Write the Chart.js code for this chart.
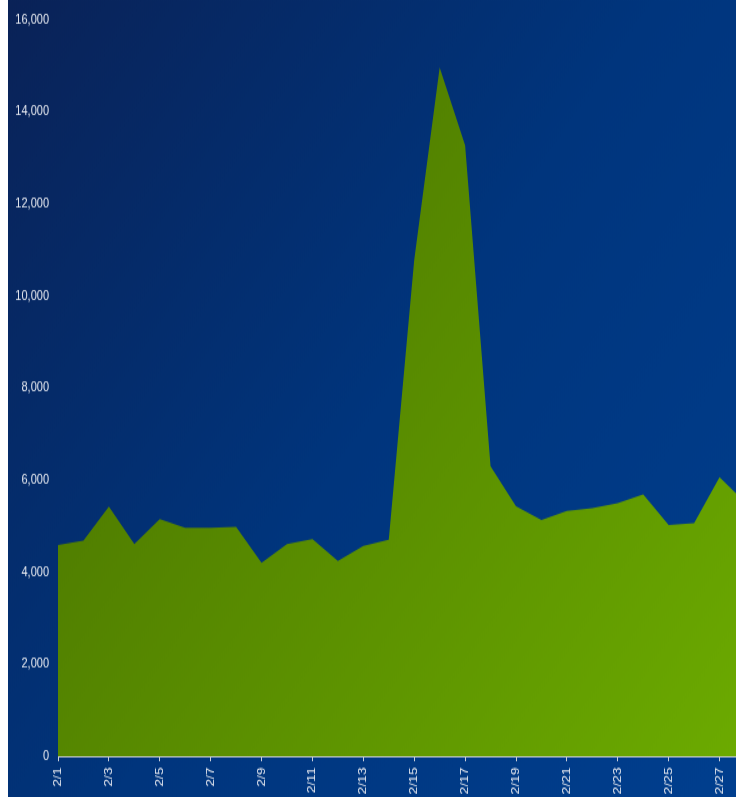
<!DOCTYPE html>
<html lang="en">
<head>
    <meta charset="UTF-8">
    <title>Daily Totals - February</title>
    <script src="https://cdn.jsdelivr.net/npm/chart.js"></script>
    <style>
        html, body {
            margin: 0;
            padding: 0;
            background: #ffffff;
            overflow: hidden;
            width: 736px;
            height: 797px;
        }
        #chartBox {
            position: absolute;
            left: 8px;
            top: 0;
            width: 752px;
            height: 638px;
            /* the original picture is stretched vertically */
            transform: scaleY(1.25);
            transform-origin: 0 0;
        }
    </style>
</head>
<body>
    <div id="chartBox">
        <canvas id="dailyChart" width="752" height="638"></canvas>
    </div>

    <script>
        // Days of February
        const days = ['2/1', '2/2', '2/3', '2/4', '2/5', '2/6', '2/7', '2/8', '2/9', '2/10',
            '2/11', '2/12', '2/13', '2/14', '2/15', '2/16', '2/17', '2/18', '2/19', '2/20',
            '2/21', '2/22', '2/23', '2/24', '2/25', '2/26', '2/27', '2/28'];

        // Daily values
        const dailyValues = [4590, 4680, 5420, 4610, 5150, 4960, 4960, 4980, 4200, 4610,
            4720, 4240, 4570, 4700, 10780, 14960, 13270, 6300, 5430, 5130,
            5330, 5390, 5500, 5690, 5020, 5060, 6060, 5520];

        const yTicks = [0, 2000, 4000, 6000, 8000, 10000, 12000, 14000, 16000];

        const labelColor = '#e6e9f0';

        // Paint the dark blue backdrop behind everything
        const backdrop = {
            id: 'backdrop',
            beforeDraw(chart) {
                const ctx = chart.ctx;
                const g = ctx.createLinearGradient(0, 0, chart.width, chart.height);
                g.addColorStop(0, '#0a2257');
                g.addColorStop(0.5, '#00357d');
                g.addColorStop(1, '#003f8f');
                ctx.save();
                ctx.fillStyle = g;
                ctx.fillRect(0, 0, chart.width, chart.height);
                ctx.restore();
            }
        };

        function areaFill(context) {
            const chart = context.chart;
            const area = chart.chartArea;
            if (!area) return '#5a8c00';
            const g = chart.ctx.createLinearGradient(area.left, area.top, area.right, area.bottom);
            g.addColorStop(0, '#456c00');
            g.addColorStop(1, '#6cab00');
            return g;
        }

        const ctx = document.getElementById('dailyChart').getContext('2d');
        new Chart(ctx, {
            type: 'line',
            data: {
                labels: days,
                datasets: [{
                    data: dailyValues,
                    fill: 'origin',
                    backgroundColor: areaFill,
                    borderWidth: 0,
                    borderColor: 'rgba(0,0,0,0)',
                    pointRadius: 0,
                    tension: 0
                }]
            },
            options: {
                responsive: false,
                devicePixelRatio: 1,
                animation: false,
                layout: { padding: { top: 14, right: 15, left: 0, bottom: 0 } },
                plugins: {
                    legend: { display: false },
                    tooltip: { enabled: false }
                },
                scales: {
                    x: {
                        offset: false,
                        grid: {
                            display: true,
                            drawOnChartArea: false,
                            drawTicks: true,
                            tickLength: 4,
                            color: '#c9ced8'
                        },
                        border: { display: true, color: '#c9ced8', width: 1 },
                        ticks: {
                            autoSkip: false,
                            minRotation: 90,
                            maxRotation: 90,
                            padding: 5,
                            color: labelColor,
                            font: { family: 'Arial, "Liberation Sans"', size: 11 },
                            // only every other day gets a label and a tick
                            callback: function (value, index) {
                                return index % 2 === 0 ? days[index] : null;
                            }
                        },
                        afterFit: function (scale) { scale.height = 33; }
                    },
                    y: {
                        min: 0,
                        max: 16000,
                        afterBuildTicks: function (scale) {
                            scale.ticks = yTicks.map(v => ({ value: v }));
                        },
                        grid: { display: false, drawTicks: false },
                        border: { display: false },
                        ticks: {
                            padding: 9,
                            color: labelColor,
                            font: { family: 'Arial, "Liberation Sans"', size: 11 }
                        },
                        afterFit: function (scale) { scale.width = 50; }
                    }
                }
            },
            plugins: [backdrop]
        });
    </script>
</body>
</html>
